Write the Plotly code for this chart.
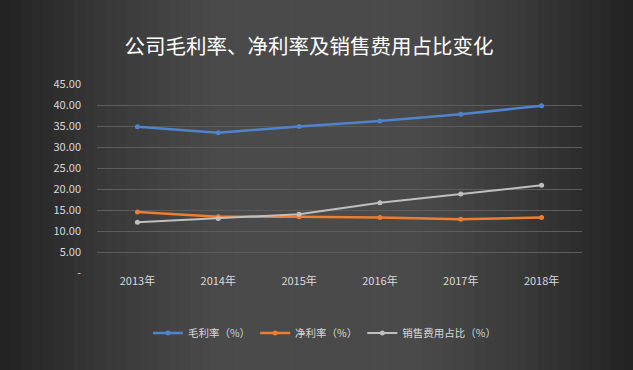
import plotly.graph_objects as go

years = ["2013年", "2014年", "2015年", "2016年", "2017年", "2018年"]
gross_margin = [34.8, 33.4, 34.9, 36.2, 37.8, 39.8]
net_margin = [14.5, 13.4, 13.4, 13.2, 12.8, 13.2]
sales_expense = [12.1, 13.0, 14.0, 16.7, 18.8, 20.9]
series_names = ["毛利率（%）", "净利率（%）", "销售费用占比（%）"]
ytick_vals = [0, 5, 10, 15, 20, 25, 30, 35, 40, 45]
ytick_text = ["-", "5.00", "10.00", "15.00", "20.00", "25.00", "30.00", "35.00", "40.00", "45.00"]

FONT = "Noto Sans CJK SC"
colors = ["#4f83cc", "#ed7d31", "#bfbfbf"]
widths = [2.5, 2.5, 2]

W, H = 633, 370
ML, MR, MT, MB = 97, 51, 84, 97
PW, PH = W - ML - MR, H - MT - MB

fig = go.Figure()
for name, vals, c, w in zip(series_names, [gross_margin, net_margin, sales_expense], colors, widths):
    fig.add_trace(go.Scatter(
        x=years, y=vals, name=name, mode="lines+markers",
        line=dict(color=c, width=w),
        marker=dict(color=c, size=5, symbol="circle"),
    ))

# horizontal vignette background (dark edges, lighter centre)
shapes = []
n = 60
for i in range(n):
    px0 = W * i / n
    px1 = W * (i + 1) / n + 0.5
    mid = (px0 + px1) / 2
    t = abs(mid - W / 2) / (W / 2)
    if t < 0.3:
        v = 0x4a
    else:
        v = int(round(0x4a - (0x4a - 0x22) * ((t - 0.3) / 0.7) ** 1.2))
    col = "#%02x%02x%02x" % (v, v, v)
    shapes.append(dict(type="rect", xref="paper", yref="paper",
                       x0=(px0 - ML) / PW, x1=(px1 - ML) / PW,
                       y0=-MB / PH - 0.05, y1=1 + MT / PH + 0.05, layer="below",
                       fillcolor=col, line=dict(width=0)))

fig.update_layout(
    width=W, height=H,
    paper_bgcolor="#3d3d3d", plot_bgcolor="rgba(0,0,0,0)",
    margin=dict(l=ML, r=MR, t=MT, b=MB),
    title=dict(text="公司毛利率、净利率及销售费用占比变化", x=(309) / W, xanchor="center", y=1 - 47 / H, yanchor="middle",
               font=dict(family=FONT, size=20.5, color="#ffffff")),
    font=dict(family=FONT, color="#d9d9d9", size=11),
    xaxis=dict(type="category", range=[-0.5, 5.5], showgrid=False, zeroline=False, showline=False,
               ticks="", tickfont=dict(size=11, color="#d9d9d9"), fixedrange=True),
    yaxis=dict(range=[0, 45], tickvals=ytick_vals, ticktext=ytick_text, showgrid=True,
               gridcolor="#5c5c5c", gridwidth=1, zeroline=False, showline=False, ticks="",
               tickfont=dict(size=11, color="#d9d9d9"), ticklabelstandoff=15),
    legend=dict(orientation="h", x=0.47, xanchor="center", y=-(333 - 273) / PH, yanchor="middle",
                font=dict(size=10.5, color="#d9d9d9"), bgcolor="rgba(0,0,0,0)", itemwidth=30,
                tracegroupgap=0),
    showlegend=True,
    shapes=shapes,
)

fig.write_html("out.html", config={"displayModeBar": False},
               post_script="document.body.style.margin='0';document.body.style.background='#222';")
